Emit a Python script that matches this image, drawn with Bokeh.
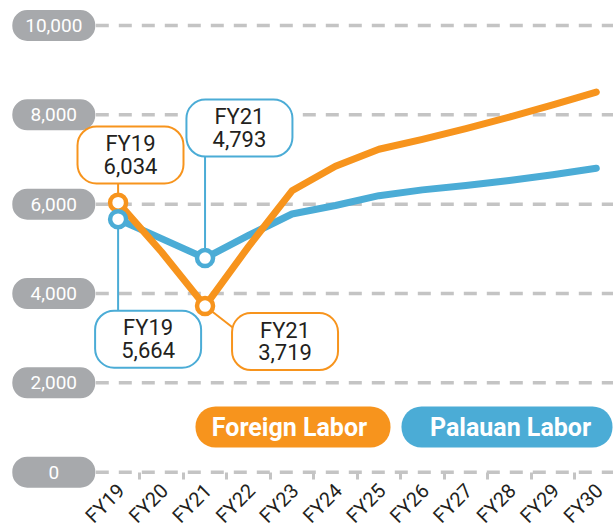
import math
from bokeh.plotting import figure
from bokeh.models import Range1d, LinearAxis, FixedTicker, BoxAnnotation
from bokeh.core.properties import value
from bokeh.embed import file_html
from bokeh.resources import INLINE

# ---------------- data ----------------
years = ["FY19", "FY20", "FY21", "FY22", "FY23", "FY24",
         "FY25", "FY26", "FY27", "FY28", "FY29", "FY30"]
foreign = [6034, 4930, 3719, 5050, 6300, 6850, 7230, 7450, 7690, 7950, 8225, 8510]
palauan = [5664, 5230, 4793, 5300, 5780, 5970, 6190, 6320, 6420, 6530, 6660, 6806]
y_ticks = [0, 2000, 4000, 6000, 8000, 10000]
y_tick_labels = ["0", "2,000", "4,000", "6,000", "8,000", "10,000"]
series_names = ["Foreign Labor", "Palauan Labor"]
callout_idx = [0, 2]   # FY19 and FY21

# ---------------- style / layout ----------------
ORANGE = "#F7941D"
BLUE = "#4BACD6"
GREY = "#A7A9AC"
DASH = "#C4C4C4"
INK = "#231F20"
FONT = "Roboto"

W, H = 613, 532
PX_X = 43.47      # pixels per category step
PX_Y = 0.04467    # pixels per unit
X0 = -117.6 / PX_X
Y_TOP = 471.7 / PX_Y


def dx(px):
    return px / PX_X


def dy(px):
    return px / PX_Y


def ix(px):  # canvas x -> data x
    return X0 + px / PX_X


def iy(py):  # canvas y -> data y
    return Y_TOP - py / PX_Y


p = figure(width=W, height=H, output_backend="svg", toolbar_location=None,
           x_axis_type=None, y_axis_type=None,
           x_range=Range1d(X0, X0 + W / PX_X),
           y_range=Range1d(Y_TOP - H / PX_Y, Y_TOP),
           min_border=0, min_border_left=0, min_border_right=0,
           min_border_top=0, min_border_bottom=0)
p.outline_line_color = None
p.background_fill_color = "white"
p.border_fill_color = "white"

# x axis (tick marks between categories) at y = 0
xaxis = LinearAxis(fixed_location=0,
                   ticker=FixedTicker(ticks=[],
                                      minor_ticks=[i + 0.5 for i in range(len(years) - 1)]))
xaxis.axis_line_color = None
xaxis.major_tick_line_color = None
xaxis.minor_tick_line_color = DASH
xaxis.minor_tick_line_width = 3
xaxis.minor_tick_in = 0
xaxis.minor_tick_out = 7
p.add_layout(xaxis, "below")

# category labels, rotated
p.text(x=list(range(len(years))), y=[0] * len(years), text=years, angle=math.pi / 4,
       text_align="right", text_baseline="middle", x_offset=3, y_offset=15,
       text_color=INK, text_font=value(FONT), text_font_size="20px")

# dashed grid lines
pill_cx = ix(53.3)
p.segment(x0=[pill_cx] * len(y_ticks), x1=[X0 + W / PX_X] * len(y_ticks),
          y0=y_ticks, y1=y_ticks, line_color=DASH, line_width=3.5,
          line_dash="13 10", line_dash_offset=4)

# y tick pills
for v in y_ticks:
    p.add_layout(BoxAnnotation(left=pill_cx - dx(41.5), right=pill_cx + dx(41.5),
                               bottom=v - dy(15.5), top=v + dy(15.5),
                               fill_color=GREY, fill_alpha=1, line_color=None,
                               border_radius=15))
p.text(x=[pill_cx] * len(y_ticks), y=y_ticks, text=y_tick_labels,
       text_align="center", text_baseline="middle", text_color="white",
       text_font=value(FONT), text_font_size="19px", level="overlay")

# callouts: (series values, colour, index, box centre offset px, connector end offset px)
callouts = [
    (foreign, ORANGE, callout_idx[0], (12.4, -47.7), (0, -40)),
    (palauan, BLUE, callout_idx[0], (30.0, 120.0), (0, 100)),
    (palauan, BLUE, callout_idx[1], (34.4, -130.0), (0, -110)),
    (foreign, ORANGE, callout_idx[1], (80.0, 35.5), (45, 35)),
]
BOX_W, BOX_H = 106, 57

# connectors
for vals, col, i, (ox, oy), (cx, cy) in callouts:
    p.segment(x0=[i], y0=[vals[i]], x1=[i + dx(cx)], y1=[vals[i] - dy(cy)],
              line_color=col, line_width=2)

# series lines
p.line(x=list(range(len(years))), y=palauan, line_color=BLUE, line_width=7,
       line_cap="round", line_join="round")
p.line(x=list(range(len(years))), y=foreign, line_color=ORANGE, line_width=7,
       line_cap="round", line_join="round")

# markers
p.scatter(x=callout_idx, y=[foreign[i] for i in callout_idx], size=16,
          fill_color="white", line_color=ORANGE, line_width=4.5)
p.scatter(x=callout_idx, y=[palauan[i] for i in callout_idx], size=16,
          fill_color="white", line_color=BLUE, line_width=4.5)

# callout boxes and texts
tx, ty, tt = [], [], []
for vals, col, i, (ox, oy), _ in callouts:
    bx = i + dx(ox)
    by = vals[i] - dy(oy)
    p.add_layout(BoxAnnotation(left=bx - dx(BOX_W / 2), right=bx + dx(BOX_W / 2),
                               bottom=by - dy(BOX_H / 2), top=by + dy(BOX_H / 2),
                               fill_color="white", fill_alpha=1, line_color=col,
                               line_width=2, line_alpha=1, border_radius=19))
    tx.append(bx)
    ty.append(by)
    tt.append(f"{years[i]}\n{vals[i]:,}")
p.text(x=tx, y=ty, text=tt, text_align="center", text_baseline="middle",
       text_color=INK, text_font=value(FONT), text_font_size="22px",
       text_line_height=0.9, level="overlay")

# legend pills
legend = [(series_names[0], ORANGE, 195, 390, 289),
          (series_names[1], BLUE, 401, 612, 510)]
for name, col, l, r, tcx in legend:
    p.add_layout(BoxAnnotation(left=ix(l), right=ix(r), bottom=iy(447), top=iy(406),
                               fill_color=col, fill_alpha=1, line_color=None,
                               border_radius=20))
p.text(x=[ix(t[4]) for t in legend], y=[iy(427)] * 2, text=[t[0] for t in legend],
       text_align="center", text_baseline="middle", text_color="white",
       text_font=value(FONT), text_font_style="bold", text_font_size="25px",
       level="overlay")

open("out.html", "w").write(file_html(p, INLINE))
